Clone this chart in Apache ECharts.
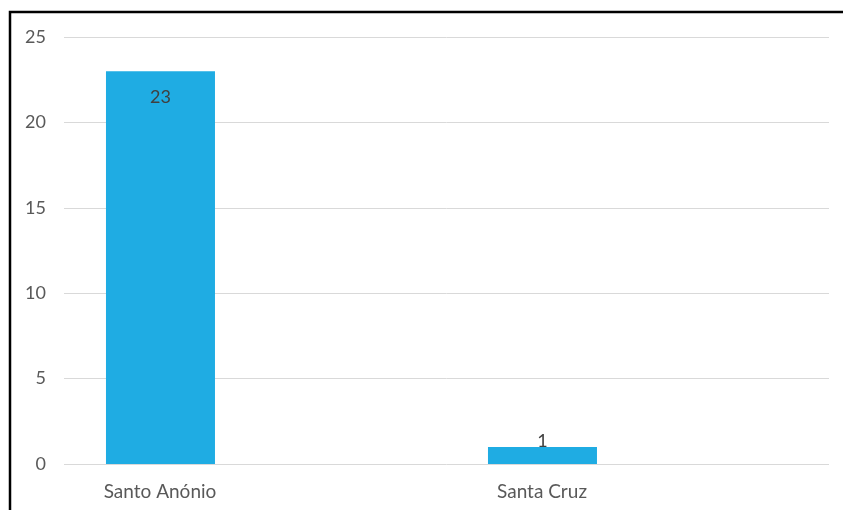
<!DOCTYPE html>
<html><head><meta charset="utf-8">
<script src="https://cdn.jsdelivr.net/npm/echarts@6/dist/echarts.min.js"></script>
<style>html,body{margin:0;padding:0;background:#fff}#c{width:843px;height:510px}</style>
</head><body><div id="c"></div>
<script>
const categories = ['Santo Anónio', 'Santa Cruz'];
const values = [23, 1];
const yTicks = [0, 5, 10, 15, 20, 25];

const chart = echarts.init(document.getElementById('c'), null, {renderer: 'canvas'});
const font = 'Lato, "Open Sans", sans-serif';
chart.setOption({
  animation: false,
  backgroundColor: '#fff',
  graphic: [{
    type: 'rect', z: 100,
    shape: {x: 10, y: 12, width: 900, height: 600},
    style: {fill: 'none', stroke: '#000', lineWidth: 2.5}
  }],
  grid: [
    {left: 64, right: 14, top: 37, bottom: 46},
    {left: 0, right: 79, top: 37, bottom: 46}
  ],
  xAxis: [
    {gridIndex: 0, type: 'category', data: categories, show: false},
    {gridIndex: 1, type: 'category', data: categories,
     axisLine: {show: false}, axisTick: {show: false},
     axisLabel: {color: '#595959', fontSize: 19, fontFamily: font, margin: 18, padding: [0, 62, 0, 0]}}
  ],
  yAxis: [
    {gridIndex: 0, type: 'value', min: yTicks[0], max: yTicks[yTicks.length - 1], interval: 5,
     axisLine: {show: false}, axisTick: {show: false},
     axisLabel: {color: '#595959', fontSize: 18, fontFamily: font, margin: 18},
     splitLine: {lineStyle: {color: '#D9D9D9', width: 1}}},
    {gridIndex: 1, type: 'value', min: 0, max: 25, show: false}
  ],
  series: [{
    type: 'bar', xAxisIndex: 1, yAxisIndex: 1,
    barWidth: 109, barGap: '-44%',
    itemStyle: {color: '#1FACE3'},
    data: values.map((v, i) => ({
      value: v,
      label: i === 0
        ? {show: true, position: 'insideTop', distance: 17, color: '#404040', fontSize: 18, fontFamily: font}
        : {show: true, position: 'top', distance: -3, color: '#404040', fontSize: 18, fontFamily: font}
    }))
  }, {
    type: 'bar', xAxisIndex: 1, yAxisIndex: 1,
    barWidth: 109, barGap: '-44%',
    data: categories.map(() => null)
  }]
});
</script></body></html>
